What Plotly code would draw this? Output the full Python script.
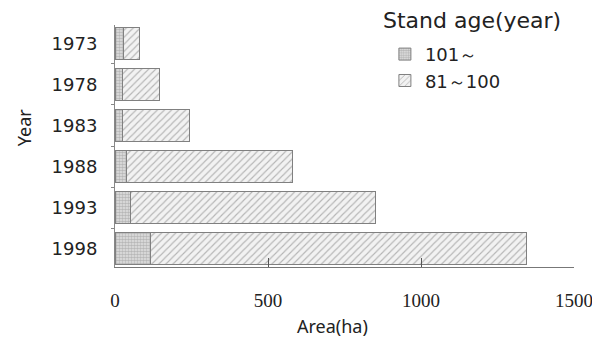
import plotly.graph_objects as go

years = ["1973", "1978", "1983", "1988", "1993", "1998"]
age_101_plus = [27, 25, 25, 38, 50, 117]
age_81_100 = [53, 122, 220, 543, 800, 1228]
x_ticks = [0, 500, 1000, 1500]

sans = "DejaVu Sans"

fig = go.Figure()
fig.add_trace(go.Bar(
    y=years, x=age_101_plus, orientation="h", name="101～",
    marker=dict(color="#d8d8d8",
                pattern=dict(shape=".", size=3, solidity=0.55, fgcolor="#8c8c8c", bgcolor="#e2e2e2"),
                line=dict(color="#808080", width=1)),
))
fig.add_trace(go.Bar(
    y=years, x=age_81_100, orientation="h", name="81～100",
    marker=dict(color="white",
                pattern=dict(shape="/", size=5, solidity=0.22, fgcolor="#777777", bgcolor="#f2f2f2"),
                line=dict(color="#808080", width=1)),
))

fig.update_layout(
    width=592, height=335,
    barmode="stack", bargap=0.22,
    plot_bgcolor="white", paper_bgcolor="white",
    margin=dict(l=107, r=26, t=17, b=76, autoexpand=False),
    font=dict(family=sans, size=17, color="#222"),
    legend=dict(
        x=0.588, y=0.955, xanchor="left", yanchor="top",
        font=dict(size=18, family=sans),
        traceorder="normal",
        bgcolor="rgba(0,0,0,0)", tracegroupgap=0, itemwidth=30,
    ),
    showlegend=True,
    annotations=[
        dict(text="Stand age(year)", xref="paper", yref="paper", x=0.58, y=1.02,
             xanchor="left", yanchor="middle", showarrow=False,
             font=dict(size=22, family=sans, color="#222")),
        dict(text="Area(ha)", xref="paper", yref="paper", x=0.473, y=-0.245,
             xanchor="center", yanchor="middle", showarrow=False,
             font=dict(size=18, family="Noto Sans", color="#222")),
        dict(text="Year", xref="paper", yref="paper", x=-0.198, y=0.578,
             xanchor="center", yanchor="middle", showarrow=False, textangle=-90,
             font=dict(size=18, family="Noto Sans", color="#222")),
    ],
)
fig.update_xaxes(
    range=[0, 1500], tickvals=x_ticks, ticktext=[str(v) for v in x_ticks],
    showgrid=False, zeroline=False, showline=True, linecolor="#777", linewidth=1,
    ticks="inside", ticklen=9, tickcolor="#555", automargin=False,
    ticklabelstandoff=16,
    tickfont=dict(family="Liberation Serif", size=19, color="#222"),
)
fig.update_yaxes(
    autorange=False, range=[5.45, -0.45],
    showgrid=False, zeroline=False, showline=True, linecolor="#888", linewidth=1,
    ticks="outside", ticklen=3, tickcolor="#888", tickson="boundaries",
    automargin=False, ticklabelstandoff=13,
    tickfont=dict(size=18, family=sans, color="#222"),
)

fig.write_html("out.html")
